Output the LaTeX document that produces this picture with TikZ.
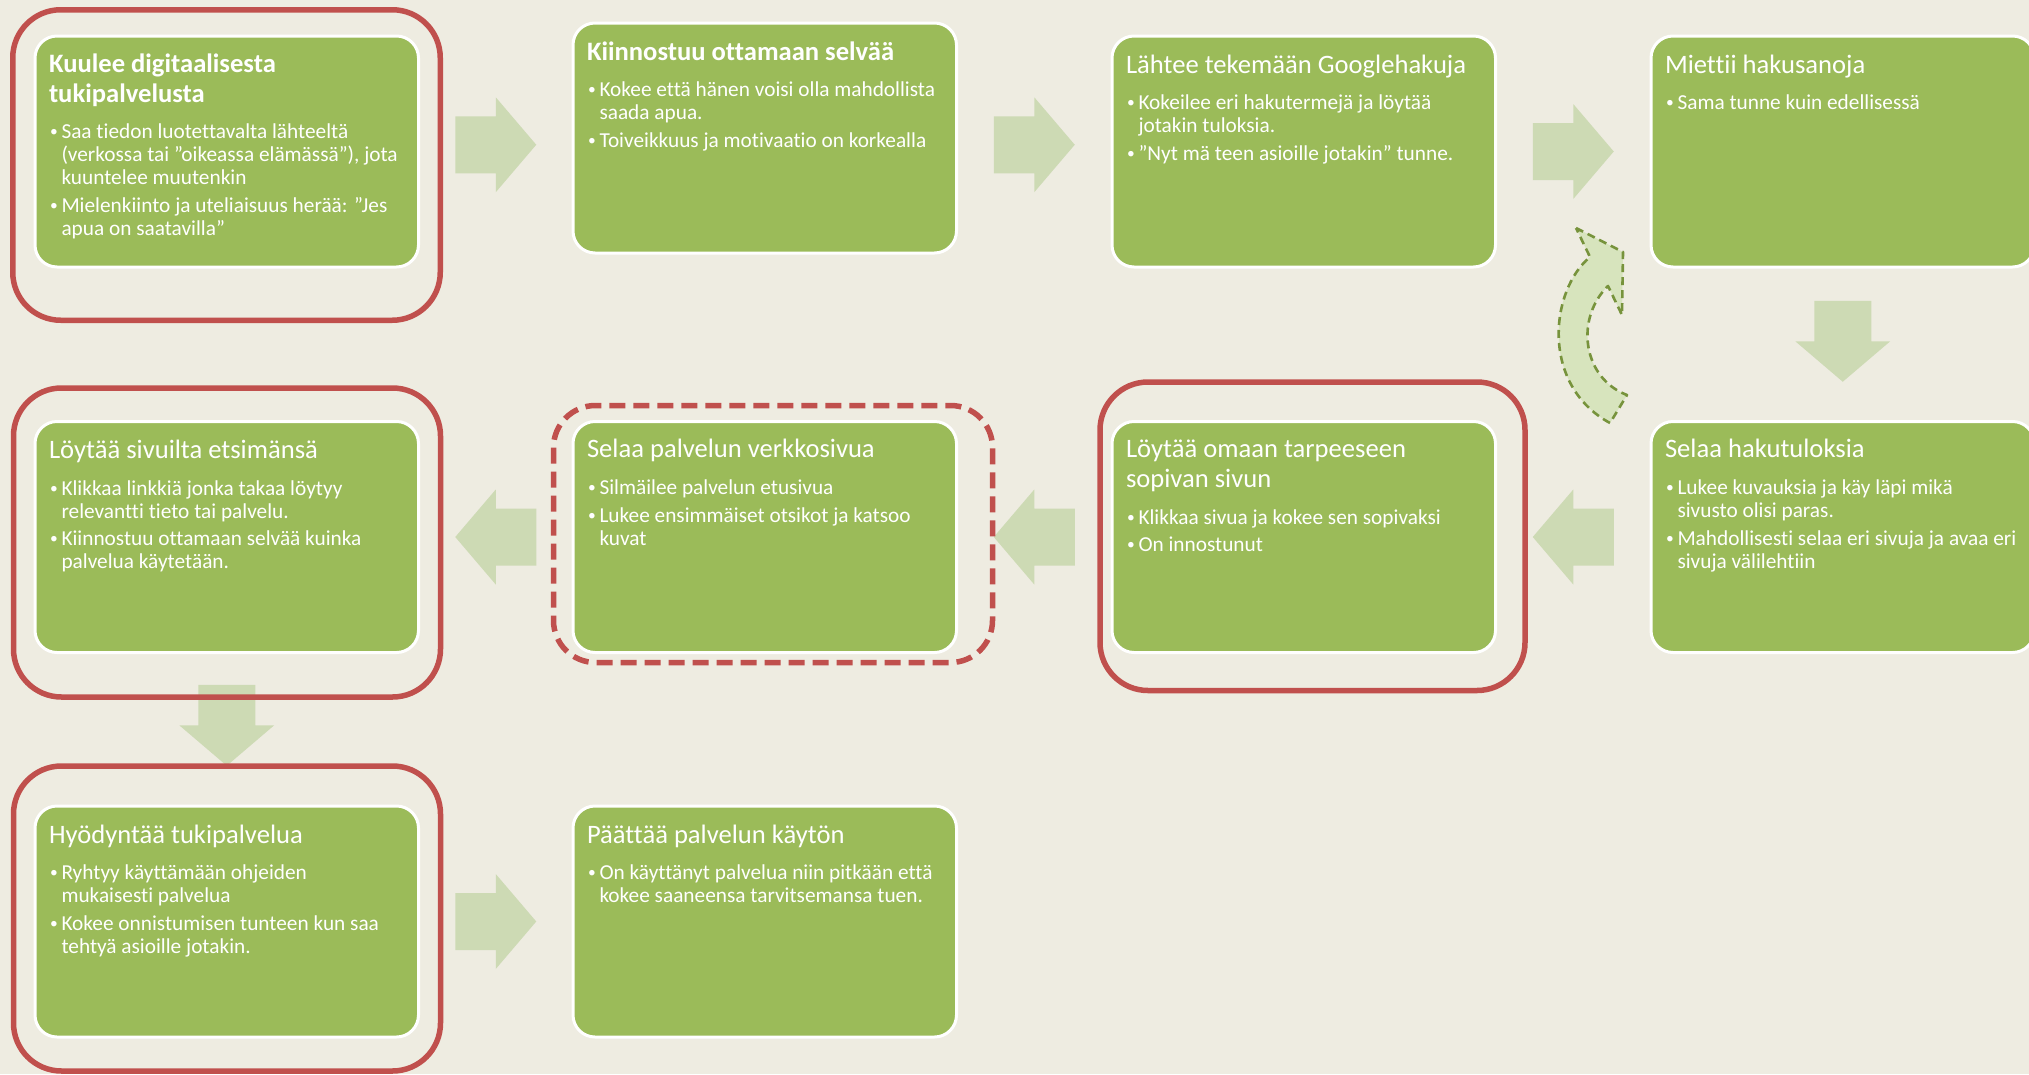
\documentclass[tikz,border=0pt]{standalone}
\usepackage{fontspec}
\setmainfont{Carlito}[Ligatures=NoCommon]
\usetikzlibrary{calc}
\definecolor{bgc}{HTML}{EEECE1}
\definecolor{gc}{HTML}{9BBB59}
\definecolor{rc}{HTML}{C0504D}
\definecolor{ac}{HTML}{CDDAB4}
\definecolor{cfill}{HTML}{D7E4BD}
\definecolor{cdash}{HTML}{77933C}
\newcommand\TF{\fontsize{26.6}{30}\selectfont}
\newcommand\Ln[2]{\baselineskip=#1pt\relax\hbox{#2}}
\newcommand\Bu[2]{\baselineskip=#1pt\relax\hbox{\hbox to 12.5pt{\kern1.2pt\raise1.6pt\hbox{\fontsize{15.5}{16}\selectfont•}\hss}#2}}
\newcommand\Co[1]{\baselineskip=23pt\relax\hbox{\kern12.5pt #1}}
\newcommand\Txt[1]{\vtop{\lineskiplimit=-1000pt\relax #1}}
\newcommand\blockarrow[2]{\fill[ac, shift={#1}, rotate=#2] (-40.5,-28.5) -- (0,-28.5) -- (0,-47.5) -- (40.5,0) -- (0,47.5) -- (0,28.5) -- (-40.5,28.5) -- cycle;}
\tikzset{
 gbox/.style={draw=white, line width=3pt, fill=gc, rounded corners=22pt, minimum width=383.5pt, minimum height=231pt, anchor=north west, inner sep=0pt, outer sep=0pt},
 txt/.style={anchor=base west, inner sep=0pt, outer sep=0pt, text=white, font=\fontsize{21.3}{23}\selectfont},
 rframe/.style={draw=rc, line width=5.5pt, rounded corners=48pt},
 rdash/.style={draw=rc, line width=5.5pt, rounded corners=42pt, dash pattern=on 16pt off 8pt},
 carrow/.style={fill=cfill, draw=cdash, line width=2.6pt, dash pattern=on 8pt off 5pt, line join=round}
}
\begin{document}
\begin{tikzpicture}[x=1pt,y=-1pt]
\useasboundingbox (0,0) rectangle (2029,1074);
\fill[bgc] (0,0) rectangle (2029,1074);

% green boxes
\node[gbox] (b1) at (35,36) {};
\node[gbox, minimum height=230pt] (b2) at (573,23) {};
\node[gbox] (b3) at (1112,36) {};
\node[gbox] (b4) at (1651,36) {};
\node[gbox] (b5) at (1651,421.5) {};
\node[gbox] (b6) at (1112,421.5) {};
\node[gbox] (b7) at (573,421.5) {};
\node[gbox] (b8) at (35,421.5) {};
\node[gbox] (b9) at (35,806) {};
\node[gbox] (b10) at (573,806) {};

% block arrows between boxes
\coordinate (a1) at ($(b1.east)!0.5!(b2.west)$);
\coordinate (a2) at ($(b2.east)!0.5!(b3.west)$);
\coordinate (a3) at ($(b3.east)!0.5!(b4.west)$);
\coordinate (a4) at ($(b4.south)!0.5!(b5.north)+(0,-3)$);
\coordinate (a5) at ($(b5.west)!0.5!(b6.east)$);
\coordinate (a6) at ($(b6.west)!0.5!(b7.east)$);
\coordinate (a7) at ($(b7.west)!0.5!(b8.east)$);
\coordinate (a8) at ($(b8.south)!0.5!(b9.north)+(0,-4)$);
\coordinate (a9) at ($(b9.east)!0.5!(b10.west)$);
\blockarrow{(a1)}{0}
\blockarrow{(a2)}{0}
\blockarrow{(a3)}{0}
\blockarrow{(a4)}{-90}
\blockarrow{(a5)}{180}
\blockarrow{(a6)}{180}
\blockarrow{(a7)}{180}
\blockarrow{(a8)}{-90}
\blockarrow{(a9)}{0}

% curved return arrow
\draw[carrow] (1576,228) -- (1623,252) -- (1622,315) -- (1608,286)
  .. controls (1575,318) and (1582,378) .. (1627,395) -- (1610,423)
  .. controls (1540,385) and (1550,290) .. (1590,257) -- cycle;

% red frames
\draw[rframe] (12.75,9.75) rectangle (440.25,320.25);
\draw[rframe] (13.5,388) rectangle (440.5,697);
\draw[rframe] (1100,382) rectangle (1525,690.5);
\draw[rdash] (553.5,405.5) rectangle (992.5,662.5);
\draw[rframe] (13.5,766) rectangle (440.5,1071);

% texts
\node[txt] (t1) at ($(b1.north west)+(14,36)$) {\Txt{%
\Ln{0}{\bfseries\TF Kuulee digitaalisesta}
\Ln{30}{\bfseries\TF tukipalvelusta}
\Bu{36.5}{Saa tiedon luotettavalta lähteeltä}
\Co{(verkossa tai ”oikeassa elämässä”), jota}
\Co{kuuntelee muutenkin}
\Bu{27.5}{Mielenkiinto ja uteliaisuus herää: ”Jes}
\Co{apua on saatavilla”}}};

\node[txt] (t2) at ($(b2.north west)+(14,37)$) {\Txt{%
\Ln{0}{\bfseries\TF Kiinnostuu ottamaan selvää}
\Bu{36.5}{Kokee että hänen voisi olla mahdollista}
\Co{saada apua.}
\Bu{27.5}{Toiveikkuus ja motivaatio on korkealla}}};

\node[txt] (t3) at ($(b3.north west)+(14,37)$) {\Txt{%
\Ln{0}{\TF Lähtee tekemään Googlehakuja}
\Bu{36.5}{Kokeilee eri hakutermejä ja löytää}
\Co{jotakin tuloksia.}
\Bu{27.5}{”Nyt mä teen asioille jotakin” tunne.}}};

\node[txt] (t4) at ($(b4.north west)+(14,37)$) {\Txt{%
\Ln{0}{\TF Miettii hakusanoja}
\Bu{36.5}{Sama tunne kuin edellisessä}}};

\node[txt] (t5) at ($(b5.north west)+(14,36)$) {\Txt{%
\Ln{0}{\TF Selaa hakutuloksia}
\Bu{37}{Lukee kuvauksia ja käy läpi mikä}
\Co{sivusto olisi paras.}
\Bu{27.5}{Mahdollisesti selaa eri sivuja ja avaa eri}
\Co{sivuja välilehtiin}}};

\node[txt] (t6) at ($(b6.north west)+(14,36)$) {\Txt{%
\Ln{0}{\TF Löytää omaan tarpeeseen}
\Ln{30}{\TF sopivan sivun}
\Bu{36.5}{Klikkaa sivua ja kokee sen sopivaksi}
\Bu{27.5}{On innostunut}}};

\node[txt] (t7) at ($(b7.north west)+(14,36)$) {\Txt{%
\Ln{0}{\TF Selaa palvelun verkkosivua}
\Bu{37}{Silmäilee palvelun etusivua}
\Bu{27.5}{Lukee ensimmäiset otsikot ja katsoo}
\Co{kuvat}}};

\node[txt] (t8) at ($(b8.north west)+(14,36.5)$) {\Txt{%
\Ln{0}{\TF Löytää sivuilta etsimänsä}
\Bu{37}{Klikkaa linkkiä jonka takaa löytyy}
\Co{relevantti tieto tai palvelu.}
\Bu{27.5}{Kiinnostuu ottamaan selvää kuinka}
\Co{palvelua käytetään.}}};

\node[txt] (t9) at ($(b9.north west)+(14,37)$) {\Txt{%
\Ln{0}{\TF Hyödyntää tukipalvelua}
\Bu{36.5}{Ryhtyy käyttämään ohjeiden}
\Co{mukaisesti palvelua}
\Bu{27.5}{Kokee onnistumisen tunteen kun saa}
\Co{tehtyä asioille jotakin.}}};

\node[txt] (t10) at ($(b10.north west)+(14,37)$) {\Txt{%
\Ln{0}{\TF Päättää palvelun käytön}
\Bu{36.5}{On käyttänyt palvelua niin pitkään että}
\Co{kokee saaneensa tarvitsemansa tuen.}}};
\end{tikzpicture}
\end{document}
